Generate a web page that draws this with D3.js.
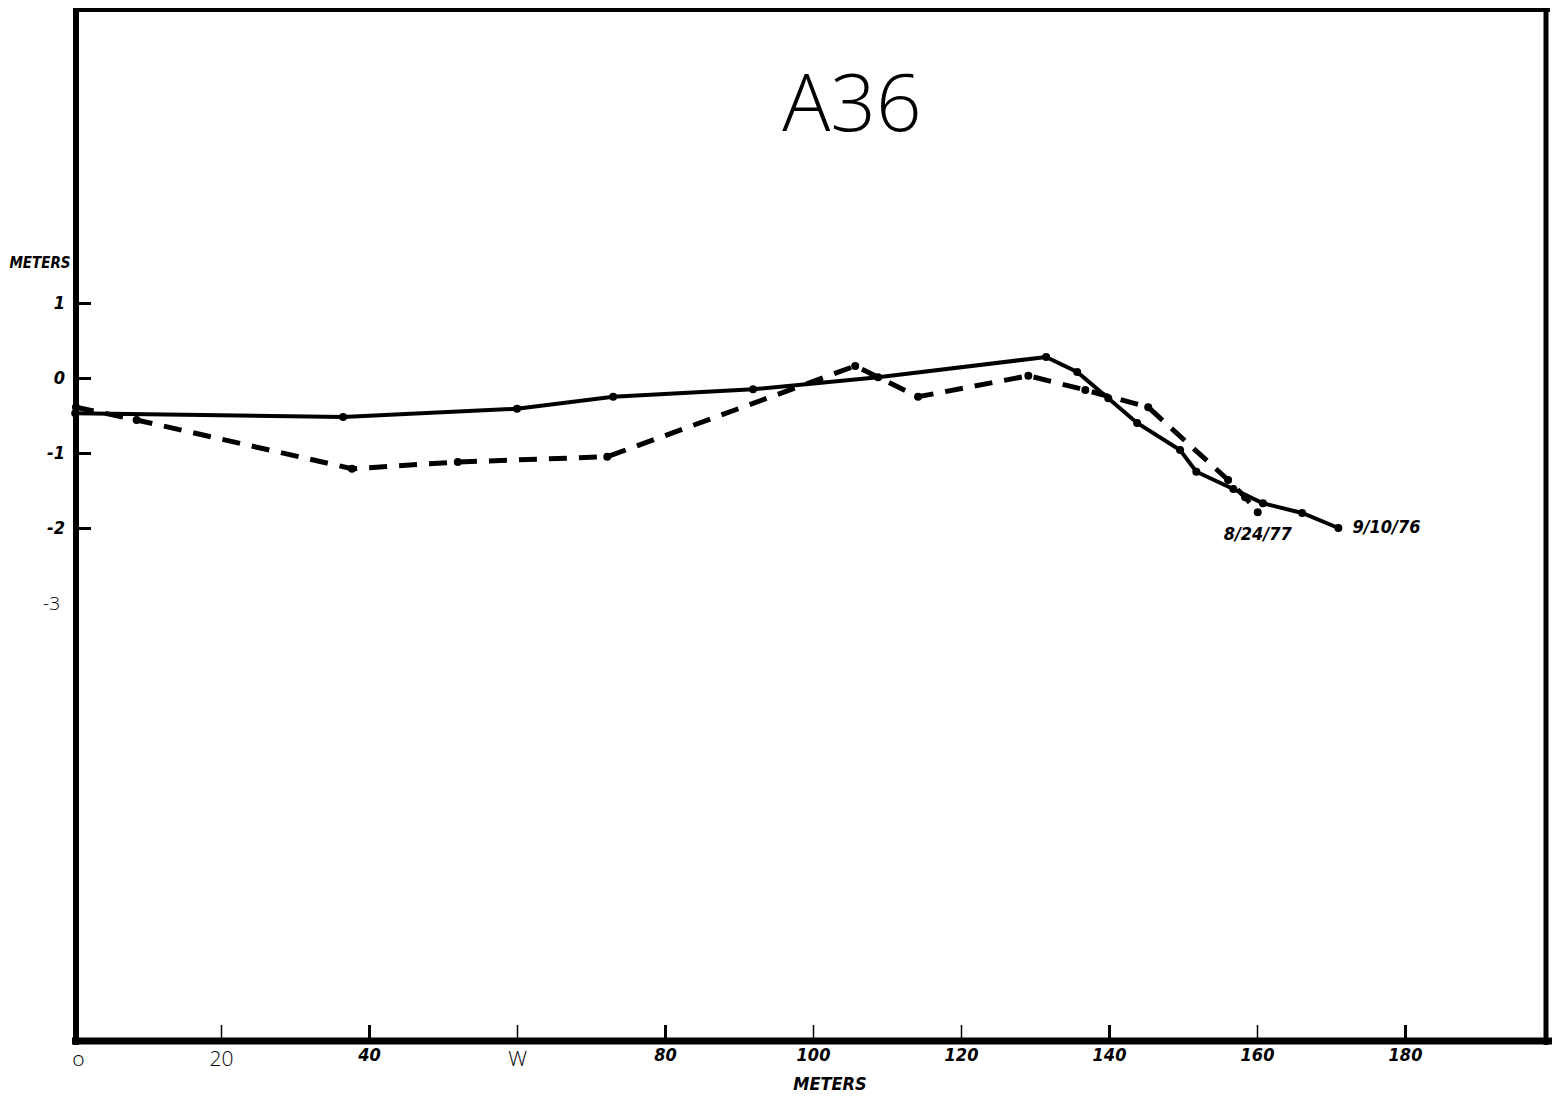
<!DOCTYPE html>
<html>
<head>
<meta charset="utf-8">
<script src="https://cdn.jsdelivr.net/npm/d3@7"></script>
<style>
  body { margin: 0; background: #fff; }
  svg { display: block; }
  .hand { font-family: 'DejaVu Sans Condensed', 'DejaVu Sans', sans-serif; font-weight: bold; font-style: italic; font-stretch: condensed; }
  .typed { font-family: 'Open Sans', sans-serif; font-weight: 300; }
</style>
</head>
<body>
<div id="chart"></div>
<script>
// profile A36, distance in meters vs elevation in meters
var title = "A36";

// 9/10/76 survey (solid)
var survey76X = [0.3, 36.5, 60, 73, 91.9, 108.8, 131.5, 135.7, 139.9, 143.8, 149.6, 151.8, 156.8, 160.8, 166.1, 171];
var survey76Y = [-0.47, -0.52, -0.41, -0.25, -0.15, 0.01, 0.28, 0.08, -0.27, -0.6, -0.96, -1.25, -1.48, -1.67, -1.8, -2.0];

// 8/24/77 survey (dashed)
var survey77X = [0.4, 8.6, 37.7, 52, 72.2, 105.7, 114.2, 129.1, 136.8, 145.3, 156.1, 158.4, 160.1];
var survey77Y = [-0.39, -0.56, -1.21, -1.12, -1.05, 0.16, -0.25, 0.03, -0.16, -0.39, -1.36, -1.59, -1.79];

var xTicks = [0, 20, 40, 60, 80, 100, 120, 140, 160, 180];
var xTickLabels = ["o", "20", "40", "W", "80", "100", "120", "140", "160", "180"];
var yTicks = [1, 0, -1, -2, -3];
var yTickLabels = ["1", "0", "-1", "-2", "-3"];

var width = 1554, height = 1103;

var svg = d3.select("#chart").append("svg")
    .attr("width", width)
    .attr("height", height);

var x = d3.scaleLinear().domain([0, 180]).range([73, 1405]);
var y = d3.scaleLinear().domain([-2, 1]).range([528, 303]);

// frame
svg.append("line").attr("x1", 73).attr("x2", 1550).attr("y1", 10).attr("y2", 10)
    .attr("stroke", "#000").attr("stroke-width", 4);
svg.append("line").attr("x1", 1546).attr("x2", 1546).attr("y1", 8).attr("y2", 1045)
    .attr("stroke", "#000").attr("stroke-width", 5);
svg.append("line").attr("x1", 76).attr("x2", 76).attr("y1", 8).attr("y2", 1045)
    .attr("stroke", "#000").attr("stroke-width", 6);
svg.append("line").attr("x1", 72).attr("x2", 1552).attr("y1", 1041).attr("y2", 1041)
    .attr("stroke", "#000").attr("stroke-width", 7);

// x axis
var typedX = [0, 20, 60];
var xAxis = d3.axisBottom(x)
    .tickValues(xTicks)
    .tickSizeInner(-13)
    .tickSizeOuter(0)
    .tickPadding(13)
    .tickFormat(function (d, i) { return xTickLabels[i]; });

var gx = svg.append("g").attr("transform", "translate(0,1038)").call(xAxis);
gx.select(".domain").remove();
gx.selectAll(".tick line")
    .attr("stroke", "#000")
    .attr("stroke-width", function (d) { return d === 0 ? 0 : (typedX.indexOf(d) >= 0 || d === 100 || d === 120 || d === 160 ? 1.5 : 3); });
gx.selectAll(".tick text")
    .attr("fill", "#000")
    .attr("class", function (d) { return typedX.indexOf(d) >= 0 ? "typed" : "hand"; })
    .attr("font-size", function (d) { return typedX.indexOf(d) >= 0 ? 21 : 18; })
    .attr("dx", function (d) { return d === 0 ? 5 : 0; })
    .attr("dy", function (d) { return typedX.indexOf(d) >= 0 ? "0.71em" : "0.55em"; });

// y axis
var yAxis = d3.axisLeft(y)
    .tickValues(yTicks)
    .tickSizeInner(-13)
    .tickSizeOuter(0)
    .tickPadding(13)
    .tickFormat(function (d, i) { return yTickLabels[i]; });

var gy = svg.append("g").attr("transform", "translate(78,0)").call(yAxis);
gy.select(".domain").remove();
gy.selectAll(".tick line")
    .attr("stroke", "#000")
    .attr("stroke-width", function (d) { return d === -3 ? 0 : 3; });
gy.selectAll(".tick text")
    .attr("fill", "#000")
    .attr("class", function (d) { return d === -3 ? "typed" : "hand"; })
    .attr("font-size", function (d) { return d === -3 ? 19 : 18; })
    .attr("dx", function (d) { return d === -3 ? -5 : 0; });

// axis titles
svg.append("text").attr("class", "hand")
    .attr("x", 40).attr("y", 268)
    .attr("text-anchor", "middle")
    .attr("font-size", 15)
    .text("METERS");
svg.append("text").attr("class", "hand")
    .attr("x", 830).attr("y", 1090)
    .attr("text-anchor", "middle")
    .attr("font-size", 18)
    .text("METERS");

// title
svg.append("text").attr("class", "typed")
    .attr("x", 852).attr("y", 131)
    .attr("text-anchor", "middle")
    .attr("font-size", 80)
    .text(title);

// series
var line = d3.line()
    .x(function (d) { return x(d[0]); })
    .y(function (d) { return y(d[1]); });

var pts76 = d3.zip(survey76X, survey76Y);
var pts77 = d3.zip(survey77X, survey77Y);

svg.append("path").datum(pts77)
    .attr("d", line)
    .attr("fill", "none")
    .attr("stroke", "#000")
    .attr("stroke-width", 5)
    .attr("stroke-dasharray", "18,12");

svg.append("path").datum(pts76)
    .attr("d", line)
    .attr("fill", "none")
    .attr("stroke", "#000")
    .attr("stroke-width", 4);

svg.append("g").selectAll("circle").data(pts77.concat(pts76)).enter()
    .append("circle")
    .attr("cx", function (d) { return x(d[0]); })
    .attr("cy", function (d) { return y(d[1]); })
    .attr("r", 4)
    .attr("fill", "#000");

// series labels
var last77 = pts77[pts77.length - 1];
var last76 = pts76[pts76.length - 1];
svg.append("text").attr("class", "hand")
    .attr("x", x(last77[0])).attr("y", y(last77[1]) + 28)
    .attr("text-anchor", "middle")
    .attr("font-size", 18)
    .text("8/24/77");
svg.append("text").attr("class", "hand")
    .attr("x", x(last76[0]) + 14).attr("y", y(last76[1]) + 5)
    .attr("font-size", 18)
    .text("9/10/76");
</script>
</body>
</html>
